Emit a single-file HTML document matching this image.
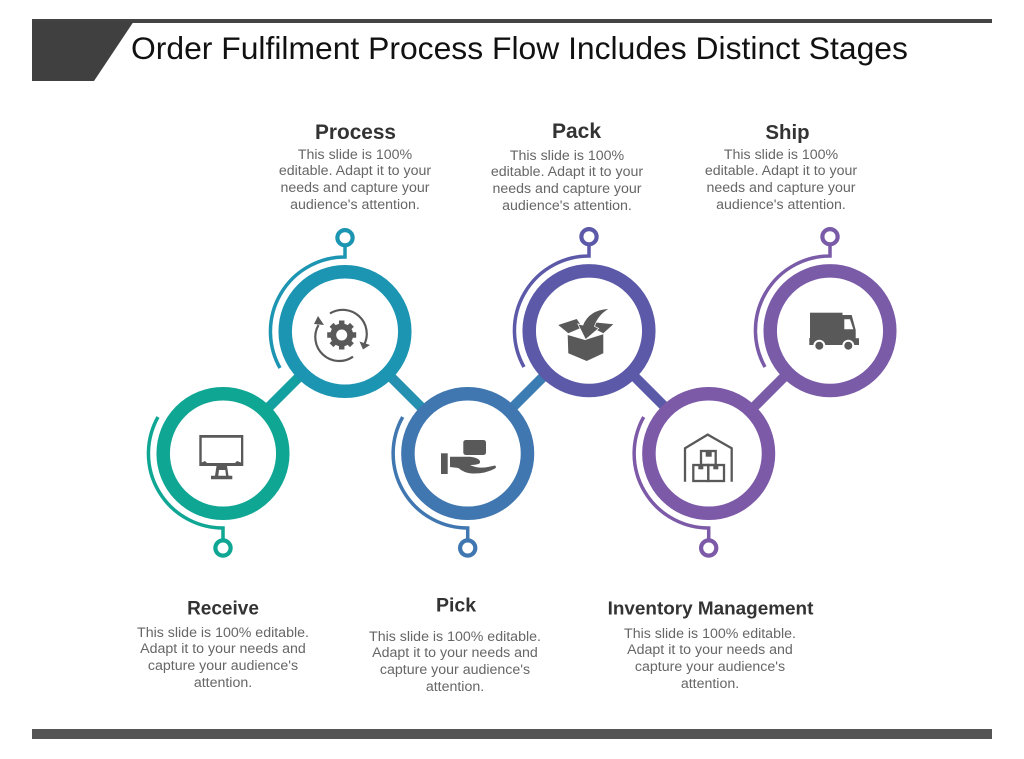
<!DOCTYPE html>
<html><head><meta charset="utf-8"><style>
html,body{margin:0;padding:0;background:#fff}
svg{display:block}
text{font-family:"Liberation Sans",sans-serif}
.h{font-weight:bold;fill:#333;text-anchor:middle}
.b{font-size:14.2px;fill:#666;text-anchor:middle}
</style></head><body>
<svg width="1024" height="759" viewBox="0 0 1024 759" xmlns="http://www.w3.org/2000/svg">
<rect width="1024" height="759" fill="#fff"/>
<rect x="32" y="19" width="960" height="4" fill="#444"/>
<polygon points="32,21 134,21 94,81 32,81" fill="#404040"/>
<text x="131" y="59" font-size="31.85" fill="#111">Order Fulfilment Process Flow Includes Distinct Stages</text>
<rect x="32" y="729" width="960" height="10" fill="#555"/>

<!-- connectors -->
<g stroke-width="10" fill="none">
<line x1="268" y1="408" x2="300" y2="376" stroke="#14a0a0"/>
<line x1="390" y1="376" x2="422" y2="408" stroke="#2590b0"/>
<line x1="512" y1="408" x2="544" y2="376" stroke="#3b7db2"/>
<line x1="634" y1="376" x2="666" y2="408" stroke="#5a5aa8"/>
<line x1="753" y1="408" x2="785" y2="376" stroke="#7a5ba8"/>
</g>

<!-- rings -->
<g fill="#fff" stroke-width="13.5">
<circle cx="223" cy="453.5" r="59.8" stroke="#0fa694"/>
<circle cx="345" cy="331.5" r="59.8" stroke="#1c95b2"/>
<circle cx="467.7" cy="453.5" r="59.8" stroke="#4077b0"/>
<circle cx="589" cy="330.7" r="59.8" stroke="#5b59a8"/>
<circle cx="708.7" cy="453.5" r="59.8" stroke="#7c5aa8"/>
<circle cx="830" cy="330.7" r="59.8" stroke="#7a5ba8"/>
</g>

<!-- outer arcs + pins -->
<g fill="none" stroke-width="3.5">
<path d="M158,417 A74.5,74.5 0 0 0 223,528 V541" stroke="#0fa694"/>
<circle cx="223" cy="548" r="7.6" stroke="#0fa694" stroke-width="4.2" fill="#fff"/>
<path d="M280,368 A74.5,74.5 0 0 1 345,257 V245" stroke="#1c95b2"/>
<circle cx="345" cy="237.7" r="7.6" stroke="#1c95b2" stroke-width="4.2" fill="#fff"/>
<path d="M402.7,417 A74.5,74.5 0 0 0 467.7,528 V541" stroke="#4077b0"/>
<circle cx="467.7" cy="548" r="7.6" stroke="#4077b0" stroke-width="4.2" fill="#fff"/>
<path d="M524,367 A74.5,74.5 0 0 1 589,256 V244" stroke="#5b59a8"/>
<circle cx="589" cy="236.7" r="7.6" stroke="#5b59a8" stroke-width="4.2" fill="#fff"/>
<path d="M643.7,417 A74.5,74.5 0 0 0 708.7,528 V541" stroke="#7c5aa8"/>
<circle cx="708.7" cy="548" r="7.6" stroke="#7c5aa8" stroke-width="4.2" fill="#fff"/>
<path d="M765,367 A74.5,74.5 0 0 1 830,256 V244" stroke="#7a5ba8"/>
<circle cx="830" cy="236.7" r="7.6" stroke="#7a5ba8" stroke-width="4.2" fill="#fff"/>
</g>

<!-- monitor -->
<path fill="#595959" fill-rule="evenodd" d="M199.3,435 H243.3 V466 H199.3 Z M201.7,437.7 V462.500 L205,461 L207,463 H235 L237,461 L241,462.500 V437.700 Z"/>
<path fill="#595959" fill-rule="evenodd" d="M216.500,466 H227 L228.500,475.700 H232.300 V479.300 H211 V475.700 H215 Z M219,470 L218.300,475.700 H226 L225.300,470 Z"/>

<!-- gear -->
<g fill="none" stroke="#595959" stroke-width="2.200">
<path d="M330,313.500 A24,24 0 0 1 364,345"/>
<path d="M353,356.700 A24,24 0 0 1 318.500,325"/>
</g>
<g fill="#595959">
<polygon points="359.500,341.500 370,345 363,349.500"/>
<polygon points="314,324 324,325 318,316"/>
<circle cx="341.700" cy="335" r="11.500"/>
<g stroke="#595959" stroke-width="5.500">
<line x1="341.700" y1="320.500" x2="341.700" y2="349.500"/>
<line x1="327.200" y1="335" x2="356.200" y2="335"/>
<line x1="331.500" y1="324.800" x2="351.900" y2="345.200"/>
<line x1="351.900" y1="324.800" x2="331.500" y2="345.200"/>
</g>
<circle cx="341.700" cy="335" r="5.500" fill="#fff"/>
</g>

<!-- box -->
<g fill="#595959">
<polygon points="567.700,335 585,340 603.300,334.300 603.300,353.300 586.700,361 568.300,353.300"/>
<polygon points="558.300,325 576.700,319 582.300,327.300 568.300,333.300"/>
<polygon points="593.300,322.300 613.300,324.300 603.300,333.300 593.300,328.300"/>
<path d="M585.700,339 L578.500,324.500 L583,325.500 Q589,310 608.300,309 Q598,315 594,326.500 L598,328.500 Z" stroke="#fff" stroke-width="1.500" paint-order="stroke"/>
</g>

<!-- hand -->
<g fill="#595959">
<rect x="441" y="453.300" width="6.700" height="20.700"/>
<rect x="463.300" y="440" width="22.700" height="15" rx="2.500"/>
<path d="M450,456.700 H470 Q481,458 480,463 Q478,465 470,465 Q478,469 488,467 L495,465.500 Q497,467 495,468.500 Q485,474 472,473.500 Q464,473 458.300,468 L450,467 Z"/>
</g>

<!-- warehouse -->
<g fill="none" stroke="#595959" stroke-width="2.300">
<path d="M685,481.700 V448.300 L707.700,434.600 L731.700,448.300 V481.700"/>
<rect x="701" y="451" width="14.700" height="14"/>
<rect x="693.300" y="465" width="15" height="16"/>
<rect x="708.300" y="465" width="15.700" height="16"/>
</g>
<g fill="#595959"><rect x="705.700" y="451" width="6" height="5.700"/><rect x="698.300" y="465" width="5" height="4.300"/><rect x="713.300" y="465" width="5" height="4.300"/></g>

<!-- truck -->
<g fill="#595959">
<rect x="810" y="312.700" width="32.500" height="30"/>
<path d="M809.300,338 H842.500 V315 H843.500 H851.700 L855.700,330 V338.300 H859 V345 H809.300 Z"/>
</g>
<polygon points="844.300,319.300 850,319.300 853.300,329.300 844.300,329.300" fill="#fff"/>
<circle cx="819.300" cy="345.700" r="6" fill="#fff"/>
<circle cx="848.300" cy="345.700" r="6" fill="#fff"/>
<circle cx="819.300" cy="345.700" r="4" fill="#595959"/>
<circle cx="848.300" cy="345.700" r="4" fill="#595959"/>

<!-- labels -->
<text class="h" font-size="20.800" x="355.500" y="139">Process</text>
<text class="b"><tspan x="355" y="159">This slide is 100%</tspan><tspan x="355" y="175">editable. Adapt it to your</tspan><tspan x="355" y="192">needs and capture your</tspan><tspan x="355" y="209">audience's attention.</tspan></text>

<text class="h" font-size="21" x="576.500" y="138">Pack</text>
<text class="b"><tspan x="567" y="160">This slide is 100%</tspan><tspan x="567" y="176">editable. Adapt it to your</tspan><tspan x="567" y="193">needs and capture your</tspan><tspan x="567" y="210">audience's attention.</tspan></text>

<text class="h" font-size="20.400" x="787.500" y="139">Ship</text>
<text class="b"><tspan x="781" y="159">This slide is 100%</tspan><tspan x="781" y="175">editable. Adapt it to your</tspan><tspan x="781" y="192">needs and capture your</tspan><tspan x="781" y="209">audience's attention.</tspan></text>

<text class="h" font-size="19" x="223" y="614.500">Receive</text>
<text class="b"><tspan x="223" y="637">This slide is 100% editable.</tspan><tspan x="223" y="653">Adapt it to your needs and</tspan><tspan x="223" y="670">capture your audience's</tspan><tspan x="223" y="687">attention.</tspan></text>

<text class="h" font-size="19.500" x="456" y="611.500">Pick</text>
<text class="b"><tspan x="455" y="641">This slide is 100% editable.</tspan><tspan x="455" y="657">Adapt it to your needs and</tspan><tspan x="455" y="674">capture your audience's</tspan><tspan x="455" y="691">attention.</tspan></text>

<text class="h" font-size="18.900" x="710.500" y="614.500">Inventory Management</text>
<text class="b"><tspan x="710" y="638">This slide is 100% editable.</tspan><tspan x="710" y="654">Adapt it to your needs and</tspan><tspan x="710" y="671">capture your audience's</tspan><tspan x="710" y="688">attention.</tspan></text>
</svg>
</body></html>
